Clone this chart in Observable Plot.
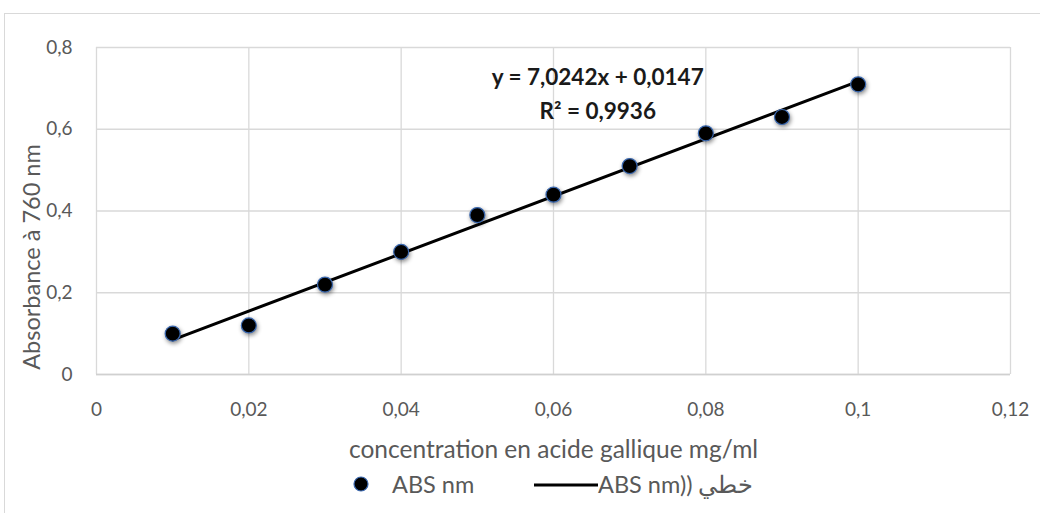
<!DOCTYPE html>
<html>
<head>
<meta charset="utf-8">
<script src="https://cdn.jsdelivr.net/npm/d3@7"></script>
<script src="https://cdn.jsdelivr.net/npm/@observablehq/plot@0.6"></script>
<style>
  html, body { margin: 0; padding: 0; background: #fff; }
  body { width: 1040px; height: 513px; position: relative; overflow: hidden; font-family: Lato, "Open Sans", sans-serif; }
  #frame { position: absolute; left: 4px; top: 13px; width: 1100px; height: 600px; border: 1px solid #d9d9d9; box-sizing: border-box; }
  #chart { position: absolute; left: 0; top: 0; }
  #legend { position: absolute; left: 0; top: 468px; width: 1040px; height: 36px; font-size: 23.5px; color: #595959; }
  #legend .item { position: absolute; top: 2px; display: flex; align-items: center; white-space: nowrap; }
  svg g[aria-label="dot"] circle { filter: drop-shadow(1px 2px 2px rgba(0,0,0,0.45)); }
</style>
</head>
<body>
<div id="frame"></div>
<div id="chart"></div>
<div id="legend"></div>
<script>
// Data
const concentration = [0.01, 0.02, 0.03, 0.04, 0.05, 0.06, 0.07, 0.08, 0.09, 0.1];
const absorbance    = [0.10, 0.12, 0.22, 0.30, 0.39, 0.44, 0.51, 0.59, 0.63, 0.71];
const xTicks = [0, 0.02, 0.04, 0.06, 0.08, 0.1, 0.12];
const yTicks = [0, 0.2, 0.4, 0.6, 0.8];
const slope = 7.0242;
const intercept = 0.0147;
const trendX = [0.01, 0.1];
const eqLines = ["y = 7,0242x + 0,0147", "R² = 0,9936"];
const eqX = [0.0658, 0.0658];
const eqY = [0.727, 0.643];
const xLabel = "concentration en acide gallique mg/ml";
const yLabel = "Absorbance à 760 nm";
const legendLabels = ["ABS nm", "ABS nm)) خطي"];

const points = concentration.map((c, i) => ({x: c, y: absorbance[i]}));
const trend = trendX.map(x => ({x, y: slope * x + intercept}));
const eq = eqLines.map((t, i) => ({t, x: eqX[i], y: eqY[i]}));
const fmt = d => String(d).replace(".", ",");

const chart = Plot.plot({
  width: 1040,
  height: 466,
  marginLeft: 96,
  marginRight: 30,
  marginTop: 47,
  marginBottom: 92,
  style: {fontFamily: "Lato, 'Open Sans', sans-serif", background: "transparent"},
  x: {domain: [0, 0.12]},
  y: {domain: [0, 0.8]},
  marks: [
    Plot.gridX(xTicks, {stroke: "#d9d9d9", strokeOpacity: 1, strokeWidth: 1.3}),
    Plot.gridY(yTicks, {stroke: "#d9d9d9", strokeOpacity: 1, strokeWidth: 1.3}),
    Plot.ruleY([0], {stroke: "#d0d0d0", strokeWidth: 1.5}),
    Plot.axisX(xTicks, {tickSize: 0, tickPadding: 28, tickFormat: fmt, fontSize: 19, fill: "#595959", label: null}),
    Plot.axisY(yTicks, {tickSize: 0, tickPadding: 24, tickFormat: fmt, fontSize: 19, fill: "#595959", label: null}),
    Plot.line(trend, {x: "x", y: "y", stroke: "#000", strokeWidth: 3}),
    Plot.dot(points, {x: "x", y: "y", r: 7.5, fill: "#000", stroke: "#3a68b0", strokeWidth: 1.2}),
    Plot.text(eq, {x: "x", y: "y", text: "t", fontSize: 22.5, fontWeight: "bold", fill: "#1a1a1a"}),
    Plot.text([xLabel], {frameAnchor: "bottom", lineAnchor: "middle", textAnchor: "middle", dy: 76, fontSize: 24.5, fill: "#595959"}),
    Plot.text([yLabel], {frameAnchor: "left", lineAnchor: "middle", textAnchor: "middle", dx: -64, dy: 46, rotate: -90, fontSize: 23.5, fill: "#595959"})
  ]
});
document.getElementById("chart").appendChild(chart);

// Legend below the plot
const legend = document.getElementById("legend");
const item1 = document.createElement("div");
item1.className = "item";
item1.style.left = "352px";
item1.innerHTML = `<svg width="18" height="18" style="margin-right:22px"><circle cx="9" cy="9" r="7" fill="#000" stroke="#3a68b0" stroke-width="1.2"/></svg><span>${legendLabels[0]}</span>`;
legend.appendChild(item1);
const item2 = document.createElement("div");
item2.className = "item";
item2.style.left = "534px";
item2.innerHTML = `<svg width="64" height="18"><line x1="0" x2="64" y1="9" y2="9" stroke="#000" stroke-width="3"/></svg><span dir="ltr">${legendLabels[1]}</span>`;
legend.appendChild(item2);
</script>
</body>
</html>
